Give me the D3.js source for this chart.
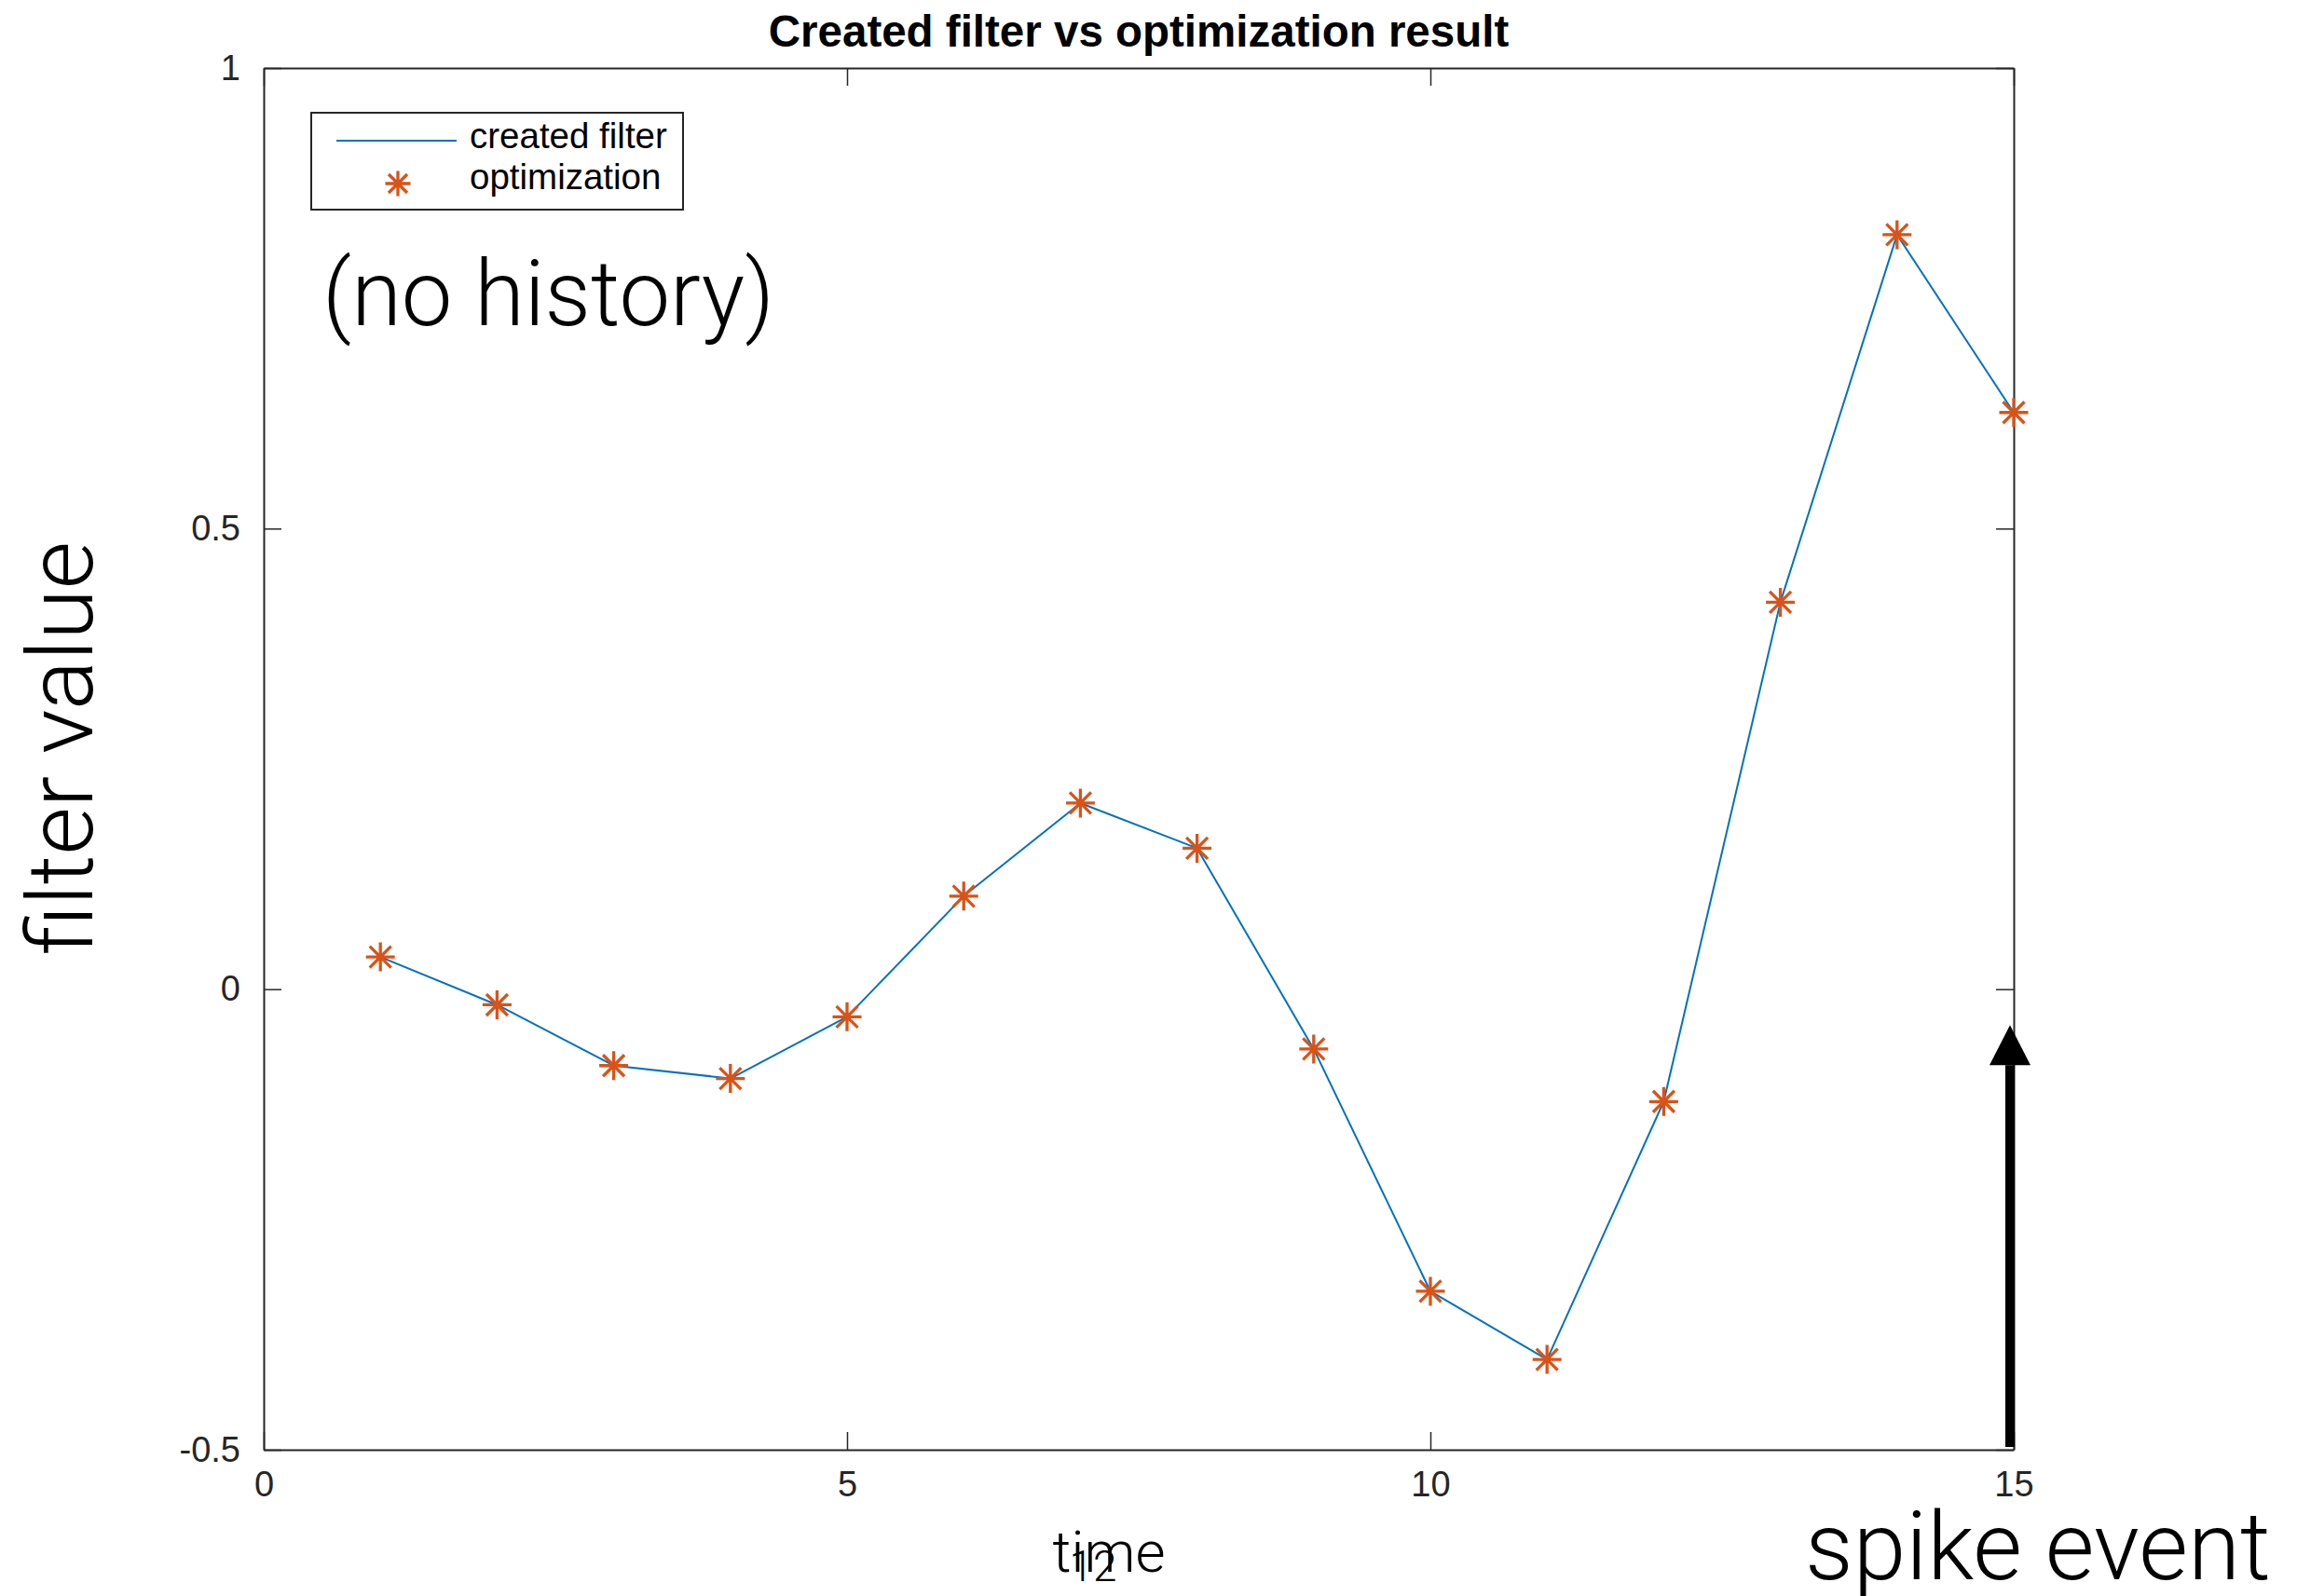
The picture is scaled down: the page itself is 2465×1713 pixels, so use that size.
<!DOCTYPE html>
<html>
<head>
<meta charset="utf-8">
<script src="https://cdn.jsdelivr.net/npm/d3@7"></script>
<style>
  html, body { margin: 0; padding: 0; background: #fff; }
  svg { display: block; }
  .axis text { font-family: "Liberation Sans", Arial, Helvetica, sans-serif; fill: #262626; }
  .axis line, .axis path { stroke: #262626; }
  .thin { font-family: Roboto, "Open Sans", "Liberation Sans", sans-serif; font-weight: 300; fill: #000; }
</style>
</head>
<body>
<script>
// Time steps of the filter and the filter values
const timeSteps = [1, 2, 3, 4, 5, 6, 7, 8, 9, 10, 11, 12, 13, 14, 15];
const createdFilter = [0.035, -0.017, -0.083, -0.097, -0.030, 0.101, 0.202, 0.153, -0.065, -0.328, -0.402, -0.122, 0.420, 0.819, 0.626];
const optimizationResult = [0.035, -0.017, -0.083, -0.097, -0.030, 0.101, 0.202, 0.153, -0.065, -0.328, -0.402, -0.122, 0.420, 0.819, 0.626];

const xTicks = [0, 5, 10, 15];
const xTickLabels = ["0", "5", "10", "15"];
const yTicks = [-0.5, 0, 0.5, 1];
const yTickLabels = ["-0.5", "0", "0.5", "1"];

const seriesNames = ["created filter", "optimization"];
const spikeTime = 15;
const spikeArrowTop = -0.039;

const W = 2465, H = 1713;
const margin = { left: 283, right: W - 2161, top: 73, bottom: H - 1556 };

const lineColor = "#0072BD";
const markerColor = "#D95319";

const svg = d3.select("body").append("svg")
  .attr("width", W).attr("height", H)
  .attr("viewBox", `0 0 ${W} ${H}`);

svg.append("rect").attr("width", W).attr("height", H).attr("fill", "#fff");

const x = d3.scaleLinear().domain([0, 15]).range([margin.left, W - margin.right]);
const y = d3.scaleLinear().domain([-0.5, 1]).range([H - margin.bottom, margin.top]);

const tickLen = 19;

// Axes: labelled bottom/left, bare top/right closing the box
svg.append("g").attr("class", "axis")
  .attr("transform", `translate(0,${y(-0.5)})`)
  .call(d3.axisBottom(x).tickValues(xTicks).tickFormat((d, i) => xTickLabels[i])
    .tickSizeInner(-tickLen).tickSizeOuter(0).tickPadding(23));
svg.append("g").attr("class", "axis")
  .attr("transform", `translate(${x(0)},0)`)
  .call(d3.axisLeft(y).tickValues(yTicks).tickFormat((d, i) => yTickLabels[i])
    .tickSizeInner(-tickLen).tickSizeOuter(0).tickPadding(25));
svg.append("g").attr("class", "axis")
  .attr("transform", `translate(0,${y(1)})`)
  .call(d3.axisTop(x).tickValues(xTicks).tickFormat("")
    .tickSizeInner(-tickLen).tickSizeOuter(0));
svg.append("g").attr("class", "axis")
  .attr("transform", `translate(${x(15)},0)`)
  .call(d3.axisRight(y).tickValues(yTicks).tickFormat("")
    .tickSizeInner(-tickLen).tickSizeOuter(0));

svg.selectAll(".axis text").attr("font-size", 38).attr("font-family", null);
svg.selectAll(".axis path").attr("stroke-width", 2);
svg.selectAll(".axis line").attr("stroke-width", 1.5);

// Title
svg.append("text")
  .attr("x", (x(0) + x(15)) / 2).attr("y", 50)
  .attr("text-anchor", "middle")
  .attr("font-family", '"Liberation Sans", Arial, Helvetica, sans-serif')
  .attr("font-weight", "bold").attr("font-size", 47.5)
  .attr("fill", "#000")
  .text("Created filter vs optimization result");

// Created filter line
const line = d3.line().x((d, i) => x(timeSteps[i])).y(d => y(d));
svg.append("path")
  .datum(createdFilter)
  .attr("d", line)
  .attr("fill", "none")
  .attr("stroke", lineColor)
  .attr("stroke-width", 2)
  .attr("stroke-linejoin", "round");

// Asterisk marker path
function asterisk(r, rd) {
  return `M${-r},0L${r},0M0,${-r}L0,${r}` +
    `M${-rd},${-rd}L${rd},${rd}M${-rd},${rd}L${rd},${-rd}`;
}

svg.append("g").selectAll("path")
  .data(optimizationResult)
  .join("path")
  .attr("transform", (d, i) => `translate(${x(timeSteps[i])},${y(d)})`)
  .attr("d", asterisk(15.5, 11.5))
  .attr("fill", "none")
  .attr("stroke", markerColor)
  .attr("stroke-width", 3.3);

// Legend
const legend = svg.append("g").attr("transform", "translate(334,121)");
legend.append("rect")
  .attr("width", 399).attr("height", 104)
  .attr("fill", "#fff").attr("stroke", "#262626").attr("stroke-width", 2);
legend.append("line")
  .attr("x1", 27).attr("x2", 156).attr("y1", 30).attr("y2", 30)
  .attr("stroke", lineColor).attr("stroke-width", 2);
legend.append("path")
  .attr("transform", "translate(93,76)")
  .attr("d", asterisk(13.5, 10))
  .attr("fill", "none").attr("stroke", markerColor).attr("stroke-width", 3.3);
legend.selectAll("text.lg")
  .data(seriesNames)
  .join("text")
  .attr("class", "lg")
  .attr("x", 170)
  .attr("y", (d, i) => 38 + i * 44)
  .attr("font-family", '"Liberation Sans", Arial, Helvetica, sans-serif')
  .attr("font-size", 38.5)
  .attr("fill", "#000")
  .text(d => d);

// Annotations
svg.append("text").attr("class", "thin")
  .attr("x", 346).attr("y", 349)
  .attr("font-size", 97.5)
  .text("(no history)");

svg.append("text").attr("class", "thin")
  .attr("transform", "translate(99,803) rotate(-90)")
  .attr("text-anchor", "middle")
  .attr("font-size", 99)
  .text("filter value");

svg.append("text").attr("class", "thin")
  .attr("x", 1190).attr("y", 1687)
  .attr("text-anchor", "middle")
  .attr("font-size", 62)
  .text("time");

svg.append("text").attr("class", "thin")
  .attr("x", 1173).attr("y", 1697)
  .attr("text-anchor", "middle")
  .attr("font-size", 46)
  .text("12");

svg.append("text").attr("class", "thin")
  .attr("x", 1937).attr("y", 1695)
  .attr("font-size", 102)
  .text("spike event");

// Spike event arrow
const ax = x(spikeTime) - 4;
const headBase = y(spikeArrowTop) + 43;
svg.append("line")
  .attr("x1", ax).attr("x2", ax)
  .attr("y1", y(-0.5) - 3).attr("y2", headBase)
  .attr("stroke", "#000").attr("stroke-width", 10);
svg.append("path")
  .attr("d", `M${ax},${y(spikeArrowTop)}L${ax + 22},${headBase}L${ax - 22},${headBase}Z`)
  .attr("fill", "#000");
</script>
</body>
</html>
